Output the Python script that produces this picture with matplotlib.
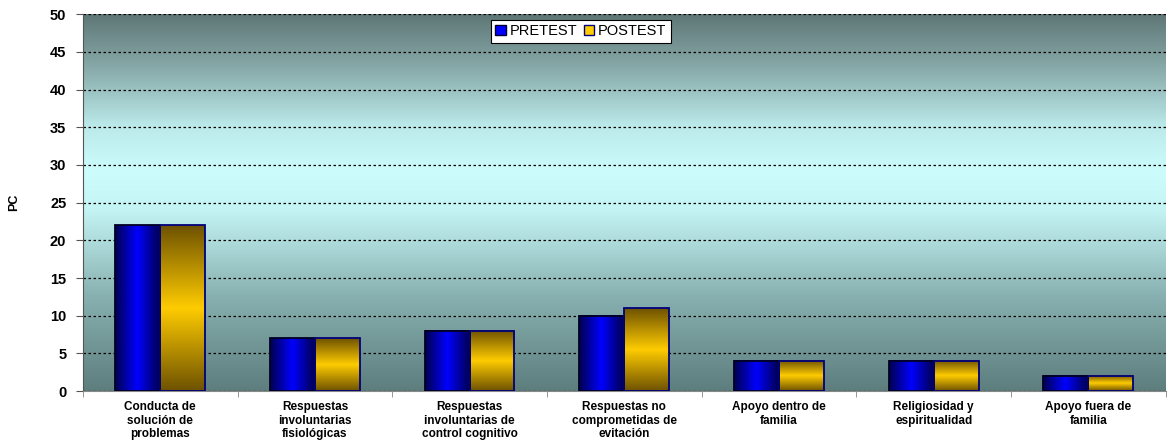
import numpy as np
import matplotlib.pyplot as plt
from matplotlib.colors import LinearSegmentedColormap
from matplotlib.patches import Patch

categories = [
    "Conducta de\nsolución de\nproblemas",
    "Respuestas\ninvoluntarias\nfisiológicas",
    "Respuestas\ninvoluntarias de\ncontrol cognitivo",
    "Respuestas no\ncomprometidas de\nevitación",
    "Apoyo dentro de\nfamilia",
    "Religiosidad y\nespiritualidad",
    "Apoyo fuera de\nfamilia",
]
pretest = [22, 7, 8, 10, 4, 4, 2]
postest = [22, 7, 8, 11, 4, 4, 2]
y_ticks = [0, 5, 10, 15, 20, 25, 30, 35, 40, 45, 50]

plt.rcParams['font.family'] = ['Liberation Sans', 'DejaVu Sans']

fig = plt.figure(figsize=(11.68, 4.41), dpi=100)
ax = fig.add_axes([0.071, 0.113, 0.927, 0.855])

x = np.arange(len(categories))
w = 0.29

# background: dark at top and bottom, pale cyan band in the middle
bg_cmap = LinearSegmentedColormap.from_list("bg", [
    (0.0, "#5e7e7e"), (0.25, "#88b0b0"), (0.48, "#c4f4f4"),
    (0.58, "#ccfcfc"), (0.7, "#bceaea"), (0.85, "#8aacac"), (1.0, "#5e7575")])
grad = np.linspace(0, 1, 256).reshape(-1, 1)
ax.imshow(grad, cmap=bg_cmap, origin='lower', aspect='auto',
          extent=[-0.5, len(categories) - 0.5, 0, 50], zorder=0)

blue_cmap = LinearSegmentedColormap.from_list("b", [
    (0.0, "#000050"), (0.5, "#0000ff"), (1.0, "#000050")])
gold_cmap = LinearSegmentedColormap.from_list("g", [
    (0.0, "#6e5200"), (0.5, "#ffcc00"), (1.0, "#6e5200")])
hgrad = np.linspace(0, 1, 128).reshape(1, -1)
vgrad = np.linspace(0, 1, 128).reshape(-1, 1)

bars_pre = ax.bar(x - w / 2, pretest, w, facecolor='none', edgecolor='#000022',
                  linewidth=1.3, zorder=4)
bars_post = ax.bar(x + w / 2, postest, w, facecolor='none', edgecolor='#00007a',
                   linewidth=1.3, zorder=4)
for b in bars_pre:
    ax.imshow(hgrad, cmap=blue_cmap, aspect='auto', zorder=3,
              extent=[b.get_x(), b.get_x() + b.get_width(), 0, b.get_height()])
for b in bars_post:
    ax.imshow(vgrad, cmap=gold_cmap, aspect='auto', zorder=3,
              extent=[b.get_x(), b.get_x() + b.get_width(), 0, b.get_height()])

ax.set_xlim(-0.5, len(categories) - 0.5)
ax.set_ylim(0, 50)
ax.set_yticks(y_ticks)
ax.set_yticklabels([str(t) for t in y_ticks], fontsize=10.5, fontweight='bold')
ax.yaxis.grid(True, linestyle=(0, (2, 2)), color='black', linewidth=0.9, zorder=1)
ax.set_axisbelow(True)

ax.set_xticks(x)
ax.set_xticklabels(categories, fontsize=8.5, fontweight='bold', linespacing=1.2)
ax.set_xticks(np.arange(len(categories) + 1) - 0.5, minor=True)
ax.tick_params(axis='x', which='major', length=0, pad=7)
ax.tick_params(axis='x', which='minor', length=4, color='#888888')
ax.tick_params(axis='y', length=5, color='#555555', pad=7)

for s in ['top', 'right']:
    ax.spines[s].set_visible(False)
ax.spines['left'].set_color('#555555')
ax.spines['bottom'].set_color('#888888')

ax.set_ylabel('PC', fontsize=9, fontweight='bold', labelpad=21)

handles = [Patch(facecolor='#0000ff', edgecolor='#000033', label='PRETEST'),
           Patch(facecolor='#ffcc00', edgecolor='#000080', label='POSTEST')]
leg = ax.legend(handles=handles, loc='upper center', bbox_to_anchor=(0.46, 0.985),
                ncol=2, frameon=True, fancybox=False, fontsize=10.5,
                handlelength=0.7, handleheight=0.6, handletextpad=0.3,
                columnspacing=0.4, borderpad=0.3, borderaxespad=0)
leg.get_frame().set_edgecolor('black')
leg.get_frame().set_linewidth(0.8)
leg.get_frame().set_alpha(1)

fig.savefig("out.png", dpi=100)
